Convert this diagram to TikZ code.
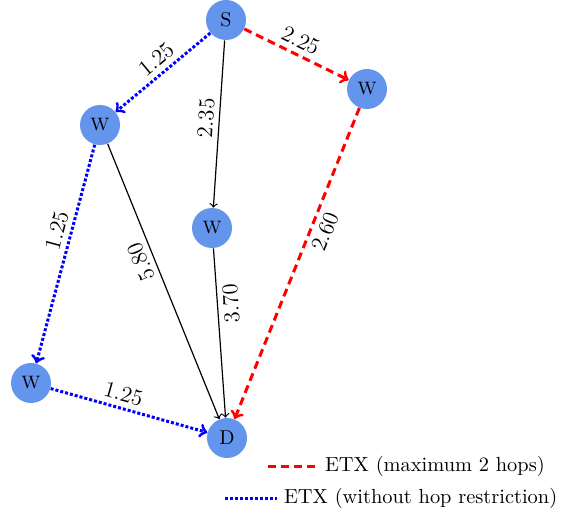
\documentclass[tikz,border=0pt]{standalone}
\usetikzlibrary{positioning}
\definecolor{nodeblue}{RGB}{100,149,237}
\begin{document}
\begin{tikzpicture}[x=0.5pt, y=-0.5pt,
    vertex/.style={circle, fill=nodeblue, minimum size=20pt, inner sep=0pt},
    weight/.style={font=\fontsize{11.3}{13}\selectfont, inner sep=2.5pt},
    legendtext/.style={anchor=west, font=\fontsize{10.2}{12}\selectfont},
    plain/.style={->, black, line width=0.6pt},
    hoptwo/.style={->, red, text=black, line width=1.5pt, dash pattern=on 4pt off 2.5pt},
    nohop/.style={->, blue, text=black, line width=1.5pt, dash pattern=on 1.5pt off 1pt}]
    \useasboundingbox (0,0) rectangle (561,518);

    \node[vertex] (s) at (226, 20) {S};
    \node[vertex] (wr) at (367, 89) {\small W};
    \node[vertex] (wl) at (100, 125) {\small W};
    \node[vertex] (wm) at (212, 228) {\small W};
    \node[vertex] (wb) at (31, 383) {\small W};
    \node[vertex] (d) at (227, 438) {D};

    \draw[nohop] (s) -- (wl) node[weight, pos=0.47, sloped, above] {1.25};
    \draw[hoptwo] (s) -- (wr) node[weight, pos=0.48, sloped, above] {2.25};
    \draw[plain] (s) -- (wm) node[weight, pos=0.47, sloped, above] {2.35};
    \draw[nohop] (wl) -- (wb) node[weight, pos=0.41, sloped, above] {1.25};
    \draw[plain] (wl) -- (d) node[weight, pos=0.41, sloped, rotate=180, above] {5.80};
    \draw[plain] (wm) -- (d) node[weight, pos=0.33, sloped, rotate=180, below] {3.70};
    \draw[hoptwo] (wr) -- (d) node[weight, pos=0.38, sloped, below] {2.60};
    \draw[nohop] (wb) -- (d) node[weight, pos=0.44, sloped, above] {1.25};

    % legend
    \node[legendtext] (leghop) at (318, 466) {ETX (maximum 2 hops)};
    \node[legendtext] (legfree) at (277, 498) {ETX (without hop restriction)};
    \coordinate (leghopstart) at (268, 466);
    \coordinate (legfreestart) at (225, 498);
    \draw[hoptwo, -] (leghopstart) -- (leghop.west);
    \draw[nohop, -] (legfreestart) -- (legfree.west);
\end{tikzpicture}
\end{document}
